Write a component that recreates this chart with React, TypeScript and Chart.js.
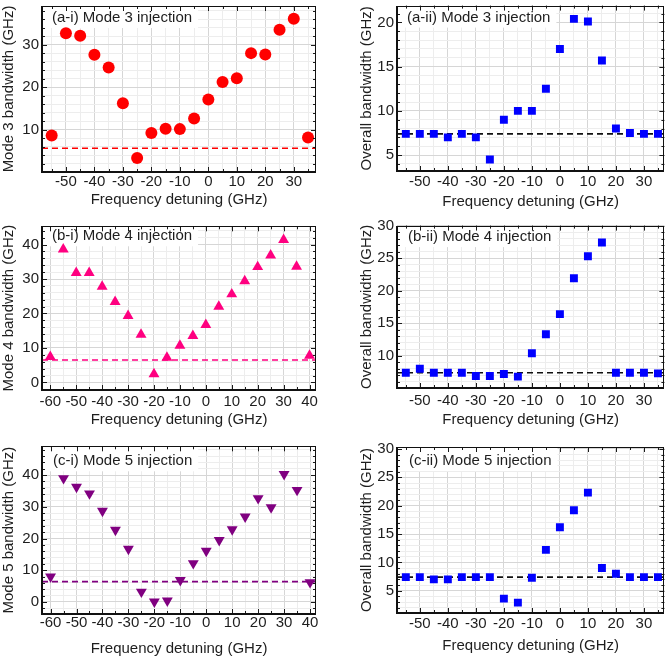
import React, { useEffect, useRef } from 'react';
import { Chart, registerables } from 'chart.js';
Chart.register(...registerables);

const FONT = '"Liberation Sans", Arial, Helvetica, sans-serif';
const TEXT = '#1e1e1e';
const GRID_MAJOR = '#d6d6d6';
const GRID_MINOR = '#ededed';

// ---- data ----
const detuningNarrow = [-55, -50, -45, -40, -35, -30, -25, -20, -15, -10, -5, 0, 5, 10, 15, 20, 25, 30, 35];
const detuningWide = [-60, -55, -50, -45, -40, -35, -30, -25, -20, -15, -10, -5, 0, 5, 10, 15, 20, 25, 30, 35, 40];

const mode3Bandwidth = [8.6, 32.7, 32.1, 27.6, 24.6, 16.2, 3.3, 9.2, 10.2, 10.1, 12.6, 17.1, 21.2, 22.1, 28.0, 27.7, 33.5, 36.1, 8.1];
const overallMode3 = [7.4, 7.4, 7.4, 7.0, 7.4, 7.0, 4.5, 9.0, 10.0, 10.0, 12.5, 17.0, 20.4, 20.1, 15.7, 8.0, 7.5, 7.4, 7.4];
const mode4Bandwidth = [7.4, 38.6, 31.8, 31.8, 27.8, 23.4, 19.3, 13.9, 2.4, 7.2, 10.7, 13.5, 16.7, 22.0, 25.6, 29.4, 33.5, 36.9, 41.4, 33.6, 7.8];
const overallMode4 = [7.4, 8.0, 7.4, 7.4, 7.4, 6.9, 6.9, 7.2, 6.8, 10.4, 13.3, 16.4, 21.9, 25.3, 27.4, 7.4, 7.4, 7.4, 7.3];
const mode5Bandwidth = [8.0, 39.0, 36.3, 34.2, 28.7, 22.7, 16.7, 3.2, 0.1, 0.4, 6.9, 12.2, 16.1, 19.5, 22.9, 26.9, 32.7, 29.8, 40.3, 35.3, 6.2];
const overallMode5 = [7.4, 7.4, 7.0, 7.0, 7.4, 7.4, 7.4, 3.6, 2.9, 7.3, 12.2, 16.2, 19.2, 22.3, 9.0, 8.0, 7.4, 7.4, 7.4];

const mode3Threshold = 5.6;
const mode4Threshold = 6.5;
const mode5Threshold = 6.4;
const overallThreshold = 7.4;

// ---- tick labels ----
const xLabelsNarrow = [-50, -40, -30, -20, -10, 0, 10, 20, 30];
const xLabelsWide = [-60, -50, -40, -30, -20, -10, 0, 10, 20, 30, 40];
const yLabelsA1 = [10, 20, 30];
const yLabelsA2 = [5, 10, 15, 20];
const yLabelsB1 = [0, 10, 20, 30, 40];
const yLabelsB2 = [10, 15, 20, 25, 30];
const yLabelsC1 = [0, 10, 20, 30, 40];
const yLabelsC2 = [5, 10, 15, 20, 25, 30];

function stepTicks(min: number, max: number, step: number) {
  const out: number[] = [];
  for (let v = Math.ceil(min / step - 1e-9) * step; v <= max + 1e-9; v += step) {
    out.push(Math.round(v * 1000) / 1000);
  }
  return out;
}

type Cfg = {
  left: number; top: number; w: number; h: number;
  plot: { l: number; t: number; r: number; b: number };
  xMin: number; xMax: number; yMin: number; yMax: number;
  xs: number[]; ys: number[]; threshold: number;
  color: string; lineColor: string; marker: string; rotation: number; radius: number;
  xLabels: number[]; yLabels: number[]; yMinor: number;
  yTitle: string; label: string; labelDx: number; labelDy: number;
  xTickPad: number; xTitlePad: number; yTitlePad: number;
};

const LEFT_W = 335;
const RIGHT_W = 335;

const PANELS: Cfg[] = [
  {
    left: 0, top: 0, w: LEFT_W, h: 220, plot: { l: 42, t: 5, r: 316, b: 172 },
    xMin: -58.4, xMax: 37.8, yMin: 0, yMax: 39.1,
    xs: detuningNarrow, ys: mode3Bandwidth, threshold: mode3Threshold,
    color: '#ff0000', lineColor: '#ff0000', marker: 'circle', rotation: 0, radius: 6,
    xLabels: xLabelsNarrow, yLabels: yLabelsA1, yMinor: 2,
    yTitle: 'Mode 3 bandwidth (GHz)', label: '(a-i) Mode 3 injection', labelDx: 10, labelDy: 12,
    xTickPad: 1, xTitlePad: 11, yTitlePad: 0,
  },
  {
    left: LEFT_W, top: 0, w: RIGHT_W, h: 220, plot: { l: 62, t: 5, r: 335, b: 171 },
    xMin: -58.15, xMax: 37.3, yMin: 3.2, yMax: 21.9,
    xs: detuningNarrow, ys: overallMode3, threshold: overallThreshold,
    color: '#0000ff', lineColor: '#111111', marker: 'rect', rotation: 0, radius: 5.6,
    xLabels: xLabelsNarrow, yLabels: yLabelsA2, yMinor: 1,
    yTitle: 'Overall bandwidth (GHz)', label: '(a-ii) Mode 3 injection', labelDx: 10, labelDy: 12,
    xTickPad: 2, xTitlePad: 9, yTitlePad: 23,
  },
  {
    left: 0, top: 220, w: LEFT_W, h: 220, plot: { l: 42, t: 5, r: 316, b: 170 },
    xMin: -63.2, xMax: 42.5, yMin: -2.2, yMax: 45.3,
    xs: detuningWide, ys: mode4Bandwidth, threshold: mode4Threshold,
    color: '#ff0080', lineColor: '#ff0080', marker: 'triangle', rotation: 0, radius: 6.3,
    xLabels: xLabelsWide, yLabels: yLabelsB1, yMinor: 2,
    yTitle: 'Mode 4 bandwidth (GHz)', label: '(b-i) Mode 4 injection', labelDx: 10, labelDy: 10,
    xTickPad: 3, xTitlePad: 11, yTitlePad: 0,
  },
  {
    left: LEFT_W, top: 220, w: RIGHT_W, h: 220, plot: { l: 62, t: 3, r: 335, b: 168 },
    xMin: -58.15, xMax: 37.3, yMin: 5.05, yMax: 30,
    xs: detuningNarrow, ys: overallMode4, threshold: overallThreshold,
    color: '#0000ff', lineColor: '#111111', marker: 'rect', rotation: 0, radius: 5.6,
    xLabels: xLabelsNarrow, yLabels: yLabelsB2, yMinor: 1,
    yTitle: 'Overall bandwidth (GHz)', label: '(b-ii) Mode 4 injection', labelDx: 11, labelDy: 11.5,
    xTickPad: 4, xTitlePad: 11, yTitlePad: 23,
  },
  {
    left: 0, top: 440, w: LEFT_W, h: 222, plot: { l: 42, t: 6, r: 316, b: 174 },
    xMin: -63.3, xMax: 42.3, yMin: -3.8, yMax: 49.1,
    xs: detuningWide, ys: mode5Bandwidth, threshold: mode5Threshold,
    color: '#800080', lineColor: '#800080', marker: 'triangle', rotation: 180, radius: 6.3,
    xLabels: xLabelsWide, yLabels: yLabelsC1, yMinor: 2,
    yTitle: 'Mode 5 bandwidth (GHz)', label: '(c-i) Mode 5 injection', labelDx: 11, labelDy: 15,
    xTickPad: 0, xTitlePad: 4, yTitlePad: 0,
  },
  {
    left: LEFT_W, top: 440, w: RIGHT_W, h: 222, plot: { l: 62, t: 7, r: 335, b: 173 },
    xMin: -58.15, xMax: 37.3, yMin: 1.07, yMax: 30.35,
    xs: detuningNarrow, ys: overallMode5, threshold: overallThreshold,
    color: '#0000ff', lineColor: '#111111', marker: 'rect', rotation: 0, radius: 5.6,
    xLabels: xLabelsNarrow, yLabels: yLabelsC2, yMinor: 1,
    yTitle: 'Overall bandwidth (GHz)', label: '(c-ii) Mode 5 injection', labelDx: 12, labelDy: 14,
    xTickPad: 2, xTitlePad: 7, yTitlePad: 23,
  },
];

function Panel({ cfg }: { cfg: Cfg }) {
  const ref = useRef<HTMLCanvasElement>(null);
  useEffect(() => {
    const c = cfg;
    const framePlugin = {
      id: 'frameDecor',
      beforeDatasetsDraw(chart: any) {
        const { ctx, chartArea: a } = chart;
        ctx.save();
        ctx.font = `15px ${FONT}`;
        const tw = ctx.measureText(c.label).width;
        ctx.fillStyle = '#ffffff';
        ctx.fillRect(a.left + 1, a.top + 1, c.labelDx + tw + 5, c.labelDy + 9);
        ctx.fillStyle = TEXT;
        ctx.textBaseline = 'middle';
        ctx.textAlign = 'left';
        ctx.fillText(c.label, a.left + c.labelDx, a.top + c.labelDy);
        ctx.restore();
      },
      afterDatasetsDraw(chart: any) {
        const { ctx, chartArea: a, scales } = chart;
        const xs = scales.x, ys = scales.y;
        ctx.save();
        ctx.strokeStyle = '#1a1a1a';
        ctx.lineWidth = 1;
        ctx.beginPath();
        for (const t of xs.ticks) {
          const px = Math.round(xs.getPixelForValue(t.value)) + 0.5;
          const len = c.xLabels.includes(t.value) ? 5 : 3;
          ctx.moveTo(px, a.bottom);
          ctx.lineTo(px, a.bottom - len);
          ctx.moveTo(px, a.top);
          ctx.lineTo(px, a.top + len);
        }
        for (const t of ys.ticks) {
          const py = Math.round(ys.getPixelForValue(t.value)) + 0.5;
          const len = c.yLabels.includes(t.value) ? 5 : 3;
          ctx.moveTo(a.left, py);
          ctx.lineTo(a.left + len, py);
          ctx.moveTo(a.right, py);
          ctx.lineTo(a.right - len, py);
        }
        ctx.stroke();
        ctx.fillStyle = '#111111';
        const L = Math.round(a.left), R = Math.round(a.right), T = Math.round(a.top), B = Math.round(a.bottom);
        ctx.fillRect(L, T, R - L, 1);
        ctx.fillRect(R - 1, T, 1, B - T);
        ctx.fillRect(L - 1, T, 2, B - T + 1);
        ctx.fillRect(L - 1, B - 1, R - L + 1, 2);
        ctx.restore();
      },
    };

    const chart = new Chart(ref.current as HTMLCanvasElement, {
      type: 'scatter',
      data: {
        datasets: [
          {
            data: c.xs.map((x, i) => ({ x, y: c.ys[i] })),
            pointStyle: c.marker as any,
            rotation: c.rotation,
            pointRadius: c.radius,
            pointHoverRadius: c.radius,
            backgroundColor: c.color,
            borderColor: c.color,
            borderWidth: 0,
            showLine: false,
          } as any,
          {
            data: [{ x: c.xMin, y: c.threshold }, { x: c.xMax, y: c.threshold }],
            showLine: true,
            borderColor: c.lineColor,
            borderWidth: 1.6,
            borderDash: [6, 4],
            pointRadius: 0,
            pointHoverRadius: 0,
            fill: false,
          } as any,
        ],
      },
      options: {
        responsive: false,
        animation: false,
        devicePixelRatio: 1,
        events: [],
        layout: { padding: { left: 0, top: c.plot.t, right: c.w - c.plot.r, bottom: 0 } },
        plugins: { legend: { display: false }, tooltip: { enabled: false } },
        scales: {
          x: {
            type: 'linear',
            min: c.xMin,
            max: c.xMax,
            afterBuildTicks: (s: any) => { s.ticks = stepTicks(c.xMin, c.xMax, 5).map((v) => ({ value: v })); },
            afterFit: (s: any) => {
              s.height = c.h - c.plot.b;
              s.paddingLeft = 0; s.paddingRight = 0; s.paddingTop = 0; s.paddingBottom = 0;
            },
            ticks: {
              autoSkip: false,
              maxRotation: 0,
              minRotation: 0,
              padding: c.xTickPad,
              color: TEXT,
              font: { family: FONT, size: 15 },
              callback: (v: any) => (c.xLabels.includes(v) ? String(v) : ''),
            },
            grid: {
              drawTicks: false,
              lineWidth: 1,
              color: (ctx: any) => (ctx.tick && c.xLabels.includes(ctx.tick.value) ? GRID_MAJOR : GRID_MINOR),
            },
            border: { display: false },
            title: {
              display: true,
              text: 'Frequency detuning (GHz)',
              color: TEXT,
              font: { family: FONT, size: 15 },
              padding: { top: 0, bottom: c.xTitlePad },
            },
          },
          y: {
            type: 'linear',
            min: c.yMin,
            max: c.yMax,
            afterBuildTicks: (s: any) => { s.ticks = stepTicks(c.yMin, c.yMax, c.yMinor).map((v) => ({ value: v })); },
            afterFit: (s: any) => {
              s.width = c.plot.l;
              s.paddingLeft = 0; s.paddingRight = 0; s.paddingTop = 0; s.paddingBottom = 0;
            },
            ticks: {
              autoSkip: false,
              padding: 3,
              color: TEXT,
              font: { family: FONT, size: 15 },
              callback: (v: any) => (c.yLabels.includes(v) ? String(v) : ''),
            },
            grid: {
              drawTicks: false,
              lineWidth: 1,
              color: (ctx: any) => (ctx.tick && c.yLabels.includes(ctx.tick.value) ? GRID_MAJOR : GRID_MINOR),
            },
            border: { display: false },
            title: {
              display: true,
              text: c.yTitle,
              color: TEXT,
              font: { family: FONT, size: 15 },
              padding: { top: c.yTitlePad, bottom: 0 },
            },
          },
        },
      } as any,
      plugins: [framePlugin as any],
    });
    return () => chart.destroy();
  }, [cfg]);
  return (
    <canvas
      ref={ref}
      width={cfg.w}
      height={cfg.h}
      style={{ position: 'absolute', left: cfg.left, top: cfg.top, width: cfg.w, height: cfg.h, display: 'block' }}
    />
  );
}

export default function App() {
  return (
    <div style={{ position: 'absolute', left: 0, top: 0, width: 670, height: 662, background: '#ffffff', overflow: 'hidden' }}>
      {PANELS.map((p, i) => (
        <Panel key={i} cfg={p} />
      ))}
    </div>
  );
}
